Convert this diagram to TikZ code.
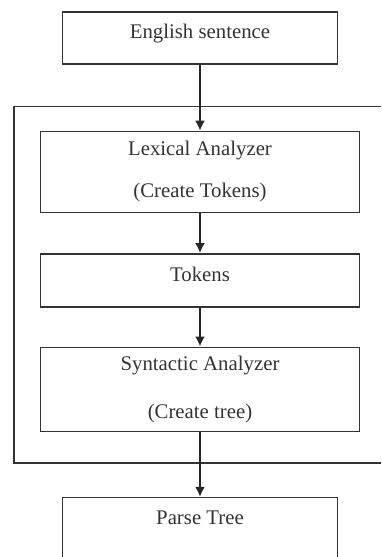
\documentclass[tikz,border=0pt]{standalone}
\usepackage{fontspec}
\setmainfont{Liberation Serif}
\usetikzlibrary{arrows.meta,positioning,calc}
\tikzset{
    stagebox/.style={
        draw=black!80,
        line width=0.7pt,
        align=center,
        text=black!80,
        font=\fontsize{10.4}{12.5}\selectfont,
        inner sep=2pt
    },
    smallbox/.style={
        stagebox,
        minimum width=137.5pt,
        minimum height=26pt,
        text depth=7pt
    },
    widebox/.style={
        stagebox,
        minimum width=159.5pt
    },
    frame/.style={draw=black!80, line width=0.7pt},
    flow/.style={-{Latex[length=5pt,width=5pt]}, line width=1.2pt, black!85}
}
\begin{document}
\begin{tikzpicture}[x=0.5pt,y=-0.5pt]
        \useasboundingbox (0,0) rectangle (381,557);
        \clip (0,0) rectangle (381,557);
        \node[smallbox] (eng) at (200,38) {English sentence};
        \node[widebox, minimum height=40.5pt, below=33pt of eng] (lex)
            {Lexical Analyzer\\[8.5pt](Create Tokens)};
        \node[widebox, minimum height=26.5pt, text depth=6pt, below=20pt of lex] (tok) {Tokens};
        \node[widebox, minimum height=42pt, below=19.5pt of tok] (syn)
            {Syntactic Analyzer\\[11.5pt](Create tree)};
        \node[smallbox, minimum height=40pt, text depth=20pt, below=32.5pt of syn] (parse) {Parse Tree};
        % analyzer frame
        \draw[frame] ($(lex.north west)+(-13pt,12pt)$) rectangle ($(syn.south east)+(30pt,-15.5pt)$);
        \draw[flow] (eng) -- (lex);
        \draw[flow] (lex) -- (tok);
        \draw[flow] (tok) -- (syn);
        \draw[flow] (syn) -- (parse);
    \end{tikzpicture}
\end{document}
